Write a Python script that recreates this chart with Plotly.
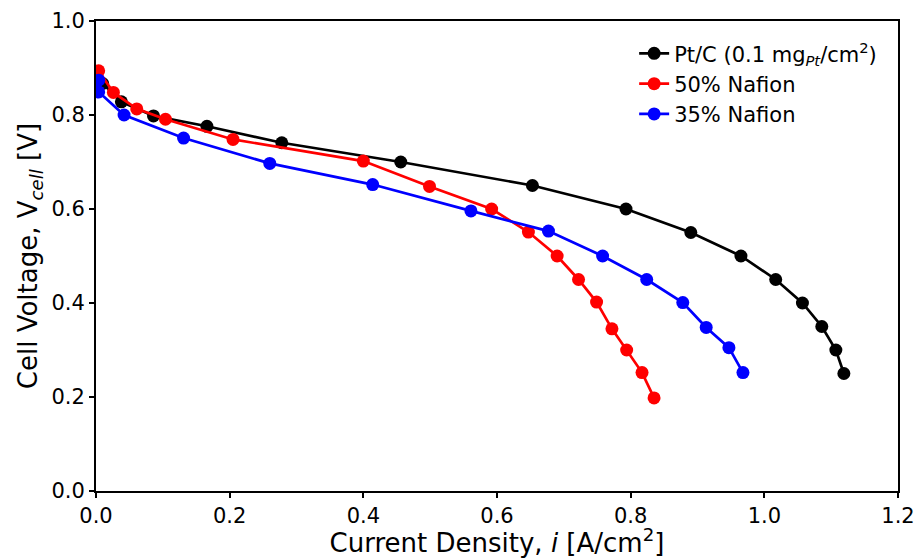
import plotly.graph_objects as go

# Data
ptc_x = [0.010, 0.038, 0.086, 0.166, 0.278, 0.456, 0.653, 0.793, 0.890, 0.965, 1.017, 1.057, 1.086, 1.107, 1.119]
ptc_y = [0.867, 0.828, 0.798, 0.776, 0.741, 0.700, 0.650, 0.600, 0.550, 0.500, 0.450, 0.400, 0.350, 0.300, 0.250]

n50_x = [0.004, 0.026, 0.061, 0.104, 0.205, 0.400, 0.499, 0.592, 0.647, 0.690, 0.722, 0.749, 0.772, 0.794, 0.817, 0.835]
n50_y = [0.894, 0.848, 0.813, 0.791, 0.748, 0.702, 0.648, 0.600, 0.551, 0.500, 0.450, 0.402, 0.345, 0.300, 0.252, 0.198]

n35_x = [0.004, 0.004, 0.042, 0.131, 0.260, 0.414, 0.561, 0.677, 0.758, 0.824, 0.878, 0.913, 0.947, 0.968]
n35_y = [0.874, 0.849, 0.800, 0.751, 0.697, 0.652, 0.596, 0.553, 0.500, 0.450, 0.401, 0.348, 0.305, 0.252]

series = [
    ("Pt/C (0.1 mg<sub><i>Pt</i></sub>/cm<sup>2</sup>)", ptc_x, ptc_y, "#000000"),
    ("50% Nafion", n50_x, n50_y, "#ff0000"),
    ("35% Nafion", n35_x, n35_y, "#0000ff"),
]

x_ticks = [0.0, 0.2, 0.4, 0.6, 0.8, 1.0, 1.2]
y_ticks = [0.0, 0.2, 0.4, 0.6, 0.8, 1.0]

fig = go.Figure()
for name, xs, ys, col in series:
    fig.add_trace(go.Scatter(
        x=xs, y=ys, name=name, mode="lines+markers",
        line=dict(color=col, width=2.7),
        marker=dict(color=col, size=13),
    ))

fig.update_layout(
    width=919, height=558,
    margin=dict(l=96, r=21, t=21, b=67),
    plot_bgcolor="white", paper_bgcolor="white",
    font=dict(family="DejaVu Sans", size=21, color="black"),
    showlegend=True,
    legend=dict(
        x=0.671, y=0.974, xanchor="left", yanchor="top",
        bgcolor="rgba(255,255,255,0)", font=dict(size=21),
        tracegroupgap=0,
    ),
)
fig.update_xaxes(
    range=[0, 1.2], tickvals=x_ticks, ticktext=[f"{v:.1f}" for v in x_ticks],
    showgrid=False, zeroline=False, automargin=False,
    showline=True, linecolor="black", linewidth=2, mirror=True,
    ticks="outside", ticklen=5, tickwidth=2, tickcolor="black",
    tickfont=dict(size=21),
    title=dict(text="Current Density, <i>i</i> [A/cm<sup>2</sup>]",
               font=dict(size=26), standoff=4),
)
fig.update_yaxes(
    range=[0, 1.0], tickvals=y_ticks, ticktext=[f"{v:.1f}" for v in y_ticks],
    showgrid=False, zeroline=False, automargin=False,
    showline=True, linecolor="black", linewidth=2, mirror=True,
    ticks="outside", ticklen=5, tickwidth=2, tickcolor="black",
    tickfont=dict(size=21),
    title=dict(text="Cell Voltage, V<sub><i>cell</i></sub> [V]", font=dict(size=26), standoff=6),
)

fig.write_html("out.html")
